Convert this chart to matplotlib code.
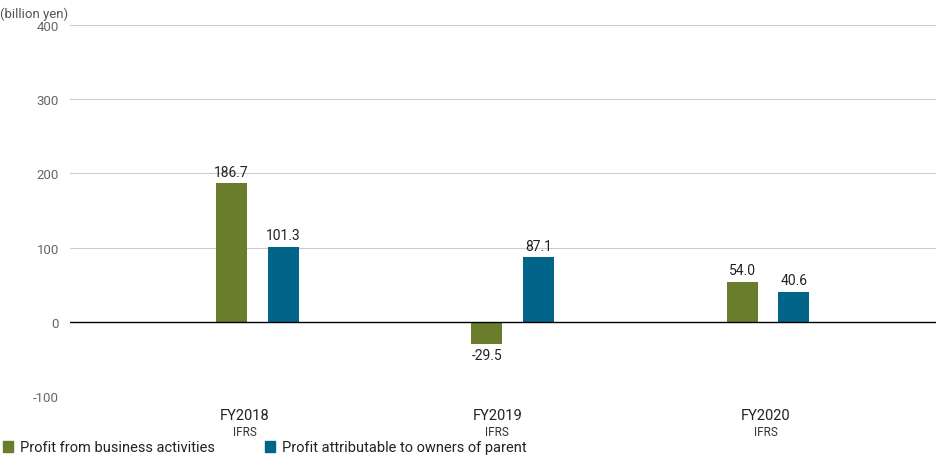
import numpy as np
import matplotlib.pyplot as plt
from matplotlib.patches import Rectangle

years = ['FY2018', 'FY2019', 'FY2020']
standard = ['IFRS', 'IFRS', 'IFRS']
business = [186.7, -29.5, 54.0]
parent = [101.3, 87.1, 40.6]
series_names = ['Profit from business activities', 'Profit attributable to owners of parent']
yticks = [-100, 0, 100, 200, 300, 400]

green = '#6a7d2c'
blue = '#006589'
plt.rcParams['font.family'] = ['Roboto', 'DejaVu Sans']

fig = plt.figure(figsize=(9.36, 4.56), dpi=100)
ax = fig.add_axes([70 / 936, 59 / 456, 866 / 936, 371 / 456])

x = np.arange(len(years))
w = 0.1215
off = 0.1018
ax.bar(x - off, business, w, color=green, zorder=3)
ax.bar(x + off, parent, w, color=blue, zorder=3)

for xi, v in zip(x - off, business):
	ax.text(xi, v + (6 if v >= 0 else -6), f'{v:.1f}', ha='center',
		va='bottom' if v >= 0 else 'top', fontsize=10, color='#222222')
for xi, v in zip(x + off, parent):
	ax.text(xi, v + 6, f'{v:.1f}', ha='center', va='bottom', fontsize=10, color='#222222')

# 255.25 px per category, first group centred at ~257.5 px
ax.set_xlim(-(187.5 / 255.25), -(187.5 / 255.25) + 866 / 255.25)
ax.set_ylim(-100, 400)
ax.set_yticks(yticks)
ax.set_yticklabels([str(t) for t in yticks], color='#666666', fontsize=9.5)
ax.tick_params(axis='y', length=0, pad=8)
ax.set_xticks([])
for t in yticks:
	ax.axhline(t, color='#000000' if t == 0 else '#cccccc', lw=1.0 if t == 0 else 0.8, zorder=1 if t else 4)
for s in ax.spines.values():
	s.set_visible(False)

label_shift = [-0.05, -0.06, -0.01]
trans = ax.get_xaxis_transform()
for xi, sh, yr, st in zip(x, label_shift, years, standard):
	ax.text(xi + sh, -0.05, yr, transform=trans, ha='center', va='center', fontsize=10.5, color='#222222')
	ax.text(xi + sh, -0.095, st, transform=trans, ha='center', va='center', fontsize=8.5, color='#333333')

fig.text(0, 1 - 14 / 456, '(billion yen)', fontsize=9.5, color='#555555', va='center')

for px, col, name in [(3, green, series_names[0]), (265, blue, series_names[1])]:
	fig.patches.append(Rectangle((px / 936, (456 - 453) / 456), 10 / 936, 11 / 456,
		transform=fig.transFigure, color=col))
	fig.text((px + 17) / 936, (456 - 448) / 456, name, fontsize=10.5, color='#222222', va='center')

fig.savefig('out.png', dpi=100)
